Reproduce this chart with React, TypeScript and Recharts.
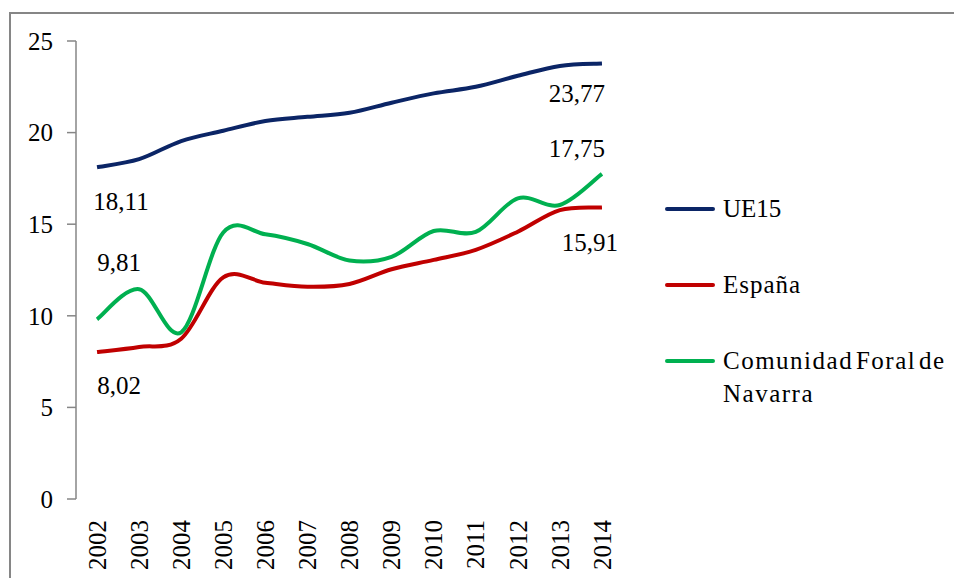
import React from "react";
import { LineChart, Line, XAxis, YAxis, Legend, LabelList } from "recharts";

const years = ["2002", "2003", "2004", "2005", "2006", "2007", "2008", "2009", "2010", "2011", "2012", "2013", "2014"];
const ue15 = [18.11, 18.55, 19.54, 20.1, 20.63, 20.86, 21.08, 21.63, 22.14, 22.5, 23.1, 23.64, 23.77];
const espana = [8.02, 8.3, 8.75, 12.1, 11.81, 11.59, 11.74, 12.54, 13.05, 13.6, 14.59, 15.77, 15.91];
const navarra = [9.81, 11.45, 9.1, 14.55, 14.45, 13.92, 13.02, 13.22, 14.63, 14.58, 16.41, 16.05, 17.75];
const yTicks = [0, 5, 10, 15, 20, 25];

const seriesNames = { ue15: "UE15", espana: "España", navarra: "Comunidad Foral de Navarra" };
const colors = { ue15: "#0B2566", espana: "#C00000", navarra: "#00B050" };

const data = years.map((year, i) => ({
  year,
  ue15: ue15[i],
  espana: espana[i],
  navarra: navarra[i],
}));

const boundaryTicks = years.map((_, i) => i).concat(years.length);

const FONT = '"Liberation Serif", "Times New Roman", serif';
const AXIS_COLOR = "#868686";

// Excel-like smoothing (uniform Catmull-Rom as cubic Bezier)
function excelSmooth(context: any) {
  let pts: number[][] = [];
  return {
    areaStart() {},
    areaEnd() {},
    lineStart() {
      pts = [];
    },
    lineEnd() {
      const n = pts.length;
      if (!n) return;
      context.moveTo(pts[0][0], pts[0][1]);
      for (let i = 0; i < n - 1; i++) {
        const p0 = pts[i - 1] || pts[i];
        const p1 = pts[i];
        const p2 = pts[i + 1];
        const p3 = pts[i + 2] || p2;
        context.bezierCurveTo(
          p1[0] + (p2[0] - p0[0]) / 6,
          p1[1] + (p2[1] - p0[1]) / 6,
          p2[0] - (p3[0] - p1[0]) / 6,
          p2[1] - (p3[1] - p1[1]) / 6,
          p2[0],
          p2[1]
        );
      }
    },
    point(x: number, y: number) {
      pts.push([+x, +y]);
    },
  };
}

const labelOffsets: Record<string, { first: [number, number]; last: [number, number] }> = {
  ue15: { first: [24, 34], last: [-25, 30] },
  espana: { first: [22, 33], last: [-12, 35] },
  navarra: { first: [22, -57], last: [-25, -25] },
};

const makeLabel = (key: string) => (props: any) => {
  const { x, y, value, index } = props;
  const last = years.length - 1;
  if (index !== 0 && index !== last) return null;
  const [dx, dy] = index === 0 ? labelOffsets[key].first : labelOffsets[key].last;
  return (
    <text
      x={x + dx}
      y={y + dy}
      textAnchor="middle"
      dominantBaseline="central"
      fontFamily={FONT}
      fontSize={25}
      fill="#000"
    >
      {Number(value).toFixed(2).replace(".", ",")}
    </text>
  );
};

const YearTick = (props: any) => {
  const { x, y, payload } = props;
  return (
    <text
      x={x}
      y={y}
      transform={`rotate(-90, ${x}, ${y})`}
      textAnchor="end"
      dy="0.35em"
      fontFamily={FONT}
      fontSize={25}
      fill="#000"
    >
      {payload.value}
    </text>
  );
};

const legendLabelLines: Record<string, string[]> = {
  ue15: ["UE15"],
  espana: ["España"],
  navarra: ["Comunidad Foral de", "Navarra"],
};

const LegendContent = () => {
  const keys = ["ue15", "espana", "navarra"];
  return (
    <div style={{ position: "relative", width: 290, textAlign: "left" }}>
      {keys.map((k) => (
        <div key={k} style={{ position: "relative", height: 76 }}>
          <div
            style={{
              position: "absolute",
              left: 0,
              top: 36,
              width: 50,
              height: 4,
              borderRadius: 2,
              background: (colors as any)[k],
            }}
          />
          <div
            style={{
              position: "absolute",
              left: 58,
              top: 21,
              fontFamily: FONT,
              fontSize: 25,
              lineHeight: "33px",
              color: "#000",
              whiteSpace: "nowrap",
              letterSpacing: k === "ue15" ? "0px" : k === "navarra" ? "1.5px" : "1px",
              wordSpacing: k === "navarra" ? "-5px" : "0px",
            }}
          >
            {legendLabelLines[k].map((t) => (
              <div key={t}>{t}</div>
            ))}
          </div>
        </div>
      ))}
    </div>
  );
};

export default function App() {
  return (
    <div style={{ position: "absolute", left: 0, top: 0, width: 954, height: 578, overflow: "hidden", background: "#fff" }}>
      <div
        style={{
          position: "absolute",
          left: 9,
          top: 12,
          width: 1000,
          height: 700,
          border: `2px solid ${AXIS_COLOR}`,
          boxSizing: "border-box",
        }}
      />
      <div style={{ position: "absolute", left: 0, top: 0 }}>
        <LineChart width={954} height={578} data={data} margin={{ top: 41, right: 331, bottom: 0, left: 0 }}>
          <XAxis
            xAxisId="frame"
            type="number"
            domain={[0, years.length]}
            ticks={boundaryTicks}
            allowDataOverflow
            tick={false}
            tickSize={7}
            height={0}
            axisLine={{ stroke: AXIS_COLOR, strokeWidth: 1.5 }}
            tickLine={{ stroke: AXIS_COLOR, strokeWidth: 1.5 }}
          />
          <XAxis
            xAxisId="cat"
            dataKey="year"
            scale="band"
            height={79}
            axisLine={false}
            tickLine={false}
            tickSize={0}
            tickMargin={21}
            interval={0}
            tick={<YearTick />}
          />
          <YAxis
            domain={[0, 25]}
            ticks={yTicks}
            width={76}
            tickSize={9}
            tickMargin={14}
            axisLine={{ stroke: AXIS_COLOR, strokeWidth: 1.5 }}
            tickLine={{ stroke: AXIS_COLOR, strokeWidth: 1.5 }}
            tick={{ fontFamily: FONT, fontSize: 25, fill: "#000" }}
          />
          <Legend
            layout="horizontal"
            align="center"
            verticalAlign="middle"
            content={<LegendContent />}
            wrapperStyle={{ left: 665, top: 171, width: 290 }}
          />
          <Line
            xAxisId="cat"
            type={excelSmooth as any}
            dataKey="ue15"
            name={seriesNames.ue15}
            stroke={colors.ue15}
            strokeWidth={4}
            dot={false}
            isAnimationActive={false}
          >
            <LabelList dataKey="ue15" content={makeLabel("ue15")} />
          </Line>
          <Line
            xAxisId="cat"
            type={excelSmooth as any}
            dataKey="espana"
            name={seriesNames.espana}
            stroke={colors.espana}
            strokeWidth={4}
            dot={false}
            isAnimationActive={false}
          >
            <LabelList dataKey="espana" content={makeLabel("espana")} />
          </Line>
          <Line
            xAxisId="cat"
            type={excelSmooth as any}
            dataKey="navarra"
            name={seriesNames.navarra}
            stroke={colors.navarra}
            strokeWidth={4}
            dot={false}
            isAnimationActive={false}
          >
            <LabelList dataKey="navarra" content={makeLabel("navarra")} />
          </Line>
        </LineChart>
      </div>
    </div>
  );
}
